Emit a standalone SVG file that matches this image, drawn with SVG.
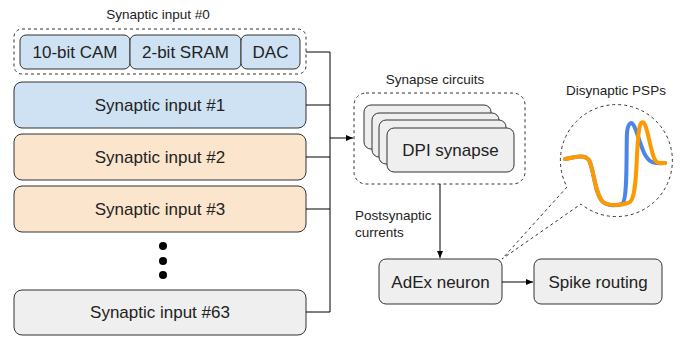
<svg xmlns="http://www.w3.org/2000/svg" width="681" height="339" viewBox="0 0 681 339">
<defs>
<style>
.box{stroke:#333;stroke-width:1}
.blue{fill:#cfe2f3}
.orange{fill:#fce5cd}
.gray{fill:#efefef}
.dash{fill:none;stroke:#333;stroke-width:1;stroke-dasharray:3,3}
.t{font-family:"Liberation Sans",Arial,sans-serif;font-size:17px;fill:#222;text-anchor:middle}
.lbl{font-family:"Liberation Sans",Arial,sans-serif;font-size:13.5px;fill:#222;text-anchor:middle}
.con{fill:none;stroke:#000;stroke-width:1}
</style>
<marker id="arr" markerWidth="8" markerHeight="8" refX="7" refY="4" orient="auto" markerUnits="userSpaceOnUse">
<path d="M0,1 L7,4 L0,7 Z" fill="#000"/>
</marker>
</defs>
<rect width="681" height="339" fill="#fff"/>

<g id="input0">
<text class="lbl" x="158" y="19">Synaptic input #0</text>
<rect class="dash" x="14" y="29" width="292" height="45" rx="8"/>
<rect class="box blue" x="20" y="35" width="110" height="34" rx="6"/>
<text class="t" x="75" y="58">10-bit CAM</text>
<rect class="box blue" x="130" y="35" width="111" height="34" rx="6"/>
<text class="t" x="185.5" y="58">2-bit SRAM</text>
<rect class="box blue" x="241" y="35" width="59" height="34" rx="6"/>
<text class="t" x="270.5" y="58">DAC</text>
</g>

<g id="input1">
<rect class="box blue" x="14" y="82" width="292" height="46" rx="8"/>
<text class="t" x="160" y="111">Synaptic input #1</text>
</g>
<g id="input2">
<rect class="box orange" x="14" y="134" width="292" height="46" rx="8"/>
<text class="t" x="160" y="163">Synaptic input #2</text>
</g>
<g id="input3">
<rect class="box orange" x="14" y="186" width="292" height="46" rx="8"/>
<text class="t" x="160" y="215">Synaptic input #3</text>
</g>
<g id="dots">
<circle cx="163" cy="246" r="4" fill="#000"/>
<circle cx="163" cy="261" r="4" fill="#000"/>
<circle cx="163" cy="275" r="4" fill="#000"/>
</g>
<g id="input63">
<rect class="box gray" x="14" y="290" width="292" height="45" rx="8"/>
<text class="t" x="160" y="318">Synaptic input #63</text>
</g>

<g id="synapses">
<text class="lbl" x="435" y="84">Synapse circuits</text>
<rect class="dash" x="354" y="93" width="171" height="91" rx="12"/>
<rect class="box gray" x="364" y="105" width="127" height="44" rx="7"/>
<rect class="box gray" x="372" y="113" width="127" height="44" rx="7"/>
<rect class="box gray" x="379" y="120" width="127" height="44" rx="7"/>
<rect class="box gray" x="387" y="128" width="127" height="44" rx="7"/>
<text class="t" x="450.5" y="156">DPI synapse</text>
</g>

<g id="adex">
<rect class="box gray" x="379" y="259" width="123" height="45" rx="7"/>
<text class="t" x="440.5" y="288">AdEx neuron</text>
</g>
<g id="routing">
<rect class="box gray" x="534" y="259" width="128" height="45" rx="7"/>
<text class="t" x="598" y="288">Spike routing</text>
</g>

<g id="psp">
<text class="lbl" x="616" y="95">Disynaptic PSPs</text>
<path class="dash" d="M567,187 L502,259 L581,204 A56,56 0 1 0 567,187"/>
<path d="M565,159 C575,157 584,154 589,160 C594,170 595,195 603,202 C608,206 616,206 622,204 C628,201 626,150 627,133 C628,122 632,120 635,128 C640,140 643,158 652,162 C656,164 660,163 665,163" fill="none" stroke="#4a86e8" stroke-width="4" stroke-linecap="round"/>
<path d="M565,159 C575,157 584,154 589,160 C594,170 595,195 603,202 C608,206 622,206 630,202 C637,197 636,160 638,140 C639,125 641,120 644,123 C648,128 650,150 655,160 C658,164 660,163 665,163" fill="none" stroke="#ff9900" stroke-width="4" stroke-linecap="round"/>
</g>

<g id="connectors">
<path class="con" d="M306,52 H330 V312 H306"/>
<path class="con" d="M306,105 H330"/>
<path class="con" d="M306,157 H330"/>
<path class="con" d="M306,209 H330"/>
<path class="con" d="M330,138 H353" marker-end="url(#arr)"/>
<path class="con" d="M440,184 V258" marker-end="url(#arr)"/>
<path class="con" d="M502,282 H533" marker-end="url(#arr)"/>
<text class="lbl" x="355" y="220" style="text-anchor:start">Postsynaptic</text>
<text class="lbl" x="355" y="237" style="text-anchor:start">currents</text>
</g>
</svg>
